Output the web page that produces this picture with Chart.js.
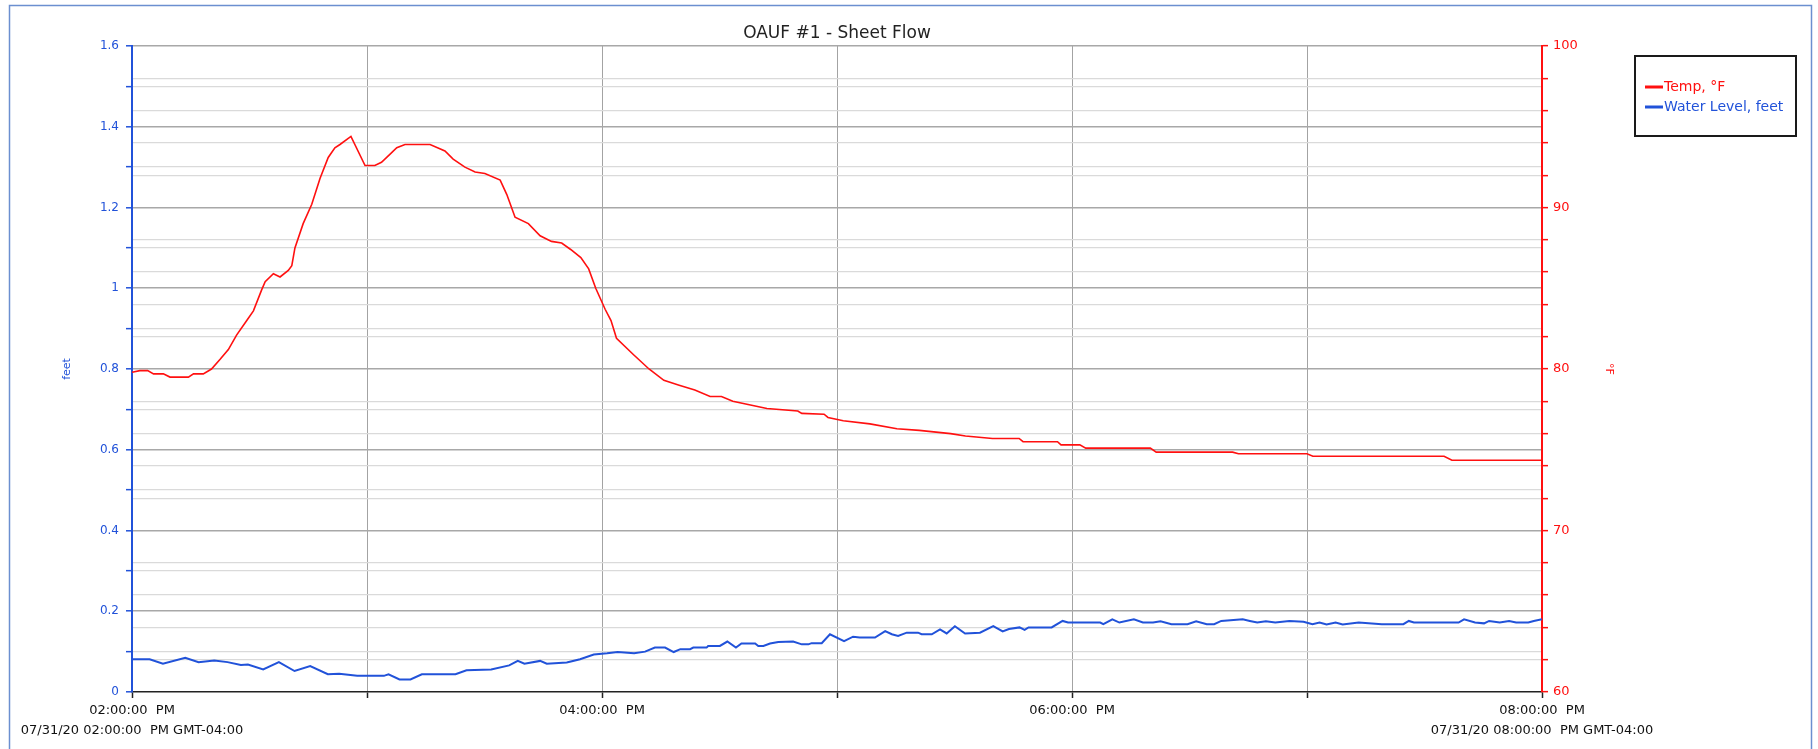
<!DOCTYPE html>
<html>
<head>
<meta charset="utf-8">
<title>OAUF #1 - Sheet Flow</title>
<script src="https://cdn.jsdelivr.net/npm/chart.js@4"></script>
<style>
    body { margin: 0; background: #fff; }
    #wrap { width: 1818px; height: 749px; position: relative; }
</style>
</head>
<body>
<div id="wrap"><canvas id="myChart"></canvas></div>
<script>
// time is in minutes after 02:00:00 PM (07/31/20)
let chartTitle = "OAUF #1 - Sheet Flow"

let tempMinutes = [0, 2, 4, 5.5, 8, 9.7, 14.4, 15.7, 18.2, 20.3, 22.5, 24.6, 26.7, 29.3, 31, 33.1, 34, 36.1, 37.8, 39.9,
    40.8, 41.6, 43.7, 45.9, 48, 50.1, 51.8, 53.1, 55.9, 59.5, 62, 63.7, 65.9, 67.6, 69.7, 76.1, 79.9, 82, 85, 87.6,
    90.1, 94, 95.7, 97.8, 101.2, 104.2, 107.1, 109.7, 112, 114.6, 116.6, 118.4, 120.8, 122.3, 123.7, 128, 132, 135.8, 139.7, 143.7,
    147.6, 150.5, 153.4, 157.3, 162.1, 170, 171, 176.7, 177.7, 181.6, 188.4, 195.3, 201, 209, 212.8, 219.7, 226.5, 227.5, 236.3, 237.2,
    242, 243.5, 260, 261.5, 281, 282.5, 300, 301.5, 335, 337, 360]
let tempValues = [79.8, 79.9, 79.9, 79.7, 79.7, 79.5, 79.5, 79.7, 79.7, 80.0, 80.6, 81.2, 82.1, 83.0, 83.6, 84.9, 85.4, 85.9, 85.7, 86.1,
    86.4, 87.5, 89.0, 90.2, 91.8, 93.1, 93.7, 93.9, 94.4, 92.6, 92.6, 92.8, 93.3, 93.7, 93.9, 93.9, 93.5, 93.0, 92.5, 92.2,
    92.1, 91.7, 90.8, 89.4, 89.0, 88.25, 87.9, 87.8, 87.4, 86.9, 86.2, 85.0, 83.7, 83.0, 81.9, 80.9, 80.0, 79.3, 79.0, 78.7,
    78.3, 78.3, 78.0, 77.8, 77.55, 77.4, 77.25, 77.2, 77.0, 76.8, 76.6, 76.3, 76.2, 76.0, 75.85, 75.7, 75.7, 75.5, 75.5, 75.3,
    75.3, 75.1, 75.1, 74.85, 74.85, 74.75, 74.75, 74.6, 74.6, 74.35, 74.35]

let levelMinutes = [0, 4.5, 7.9, 13.6, 17, 21, 24.4, 27.8, 29.6, 33.5, 37.5, 41.5, 45.5, 50, 52.9, 57.5, 64.3, 65.5, 68.3, 71.1,
    74, 82.6, 85.4, 91.7, 96.3, 98.5, 100.2, 104.2, 105.9, 111, 114.4, 117.9, 121.3, 124, 128.2, 131, 133.5, 136.1, 138.3, 140,
    142.5, 143.3, 146.7, 147.1, 150.1, 152, 154.2, 155.6, 159.1, 159.9, 161.2, 162.9, 165, 168.8, 171, 172.7, 173.5, 176.1, 178.2, 181.8,
    184.1, 185.8, 189.7, 192.3, 194, 195.6, 197.8, 200.7, 201.6, 204.2, 206.3, 208, 210.1, 212.7, 216.5, 219.9, 222.3, 223.9, 226.6, 227.9,
    228.9, 234.8, 237.6, 239, 247.2, 248, 250.3, 252.1, 255.8, 258.1, 260.7, 262.6, 265.4, 269.5, 271.7, 274.4, 276.3, 278.1, 283.6, 285.4,
    287.3, 289.5, 291.9, 295.5, 299.1, 301.4, 303.2, 305, 307.3, 309.1, 313.2, 319.1, 324.6, 326, 327.3, 338.7, 340.1, 342.9, 345.2, 346.5,
    349.2, 351.6, 353.4, 356.5, 357.9, 360]
let levelValues = [0.081, 0.081, 0.070, 0.085, 0.074, 0.078, 0.074, 0.067, 0.068, 0.056, 0.074, 0.052, 0.064, 0.044, 0.045, 0.040, 0.040, 0.044, 0.031, 0.031,
    0.044, 0.044, 0.054, 0.056, 0.066, 0.077, 0.070, 0.077, 0.070, 0.073, 0.081, 0.093, 0.096, 0.099, 0.096, 0.100, 0.110, 0.110, 0.099, 0.106,
    0.106, 0.110, 0.110, 0.114, 0.114, 0.125, 0.110, 0.120, 0.120, 0.114, 0.114, 0.120, 0.124, 0.125, 0.118, 0.118, 0.121, 0.121, 0.143, 0.126,
    0.137, 0.135, 0.135, 0.151, 0.143, 0.139, 0.147, 0.147, 0.143, 0.143, 0.155, 0.145, 0.163, 0.145, 0.147, 0.163, 0.150, 0.156, 0.160, 0.154,
    0.160, 0.160, 0.176, 0.172, 0.172, 0.168, 0.180, 0.172, 0.180, 0.172, 0.172, 0.175, 0.168, 0.168, 0.175, 0.168, 0.168, 0.176, 0.180, 0.176,
    0.172, 0.175, 0.172, 0.176, 0.174, 0.168, 0.172, 0.167, 0.172, 0.167, 0.172, 0.168, 0.168, 0.176, 0.172, 0.172, 0.180, 0.172, 0.170, 0.176,
    0.172, 0.176, 0.172, 0.172, 0.176, 0.180]

// x tick labels (every 2 hours), full date under the first and last one
let xTickMinutes = [0, 120, 240, 360]
let xTickLabels = ["02:00:00  PM", "04:00:00  PM", "06:00:00  PM", "08:00:00  PM"]
let xDateLabels = {0: "07/31/20 02:00:00  PM GMT-04:00", 360: "07/31/20 08:00:00  PM GMT-04:00"}

let blue = '#2152d9'
let red = '#ff1010'

Chart.defaults.font.family = '"DejaVu Sans", sans-serif'

// frame, title, axis titles and legend box
const extras = {
    id: 'extras',
    afterDraw(chart) {
        let c = chart.ctx
        c.save()
        c.strokeStyle = '#6b8fd0'
        c.lineWidth = 1.5
        c.strokeRect(9.5, 5.5, 1802, 780)

        c.fillStyle = '#222'
        c.font = '17px "DejaVu Sans"'
        c.textAlign = 'center'
        c.textBaseline = 'middle'
        c.fillText(chartTitle, 837, 34)

        // axis titles
        c.font = '11px "DejaVu Sans"'
        c.fillStyle = blue
        c.translate(67, 369)
        c.rotate(-Math.PI / 2)
        c.fillText("feet", 0, 0)
        c.setTransform(1, 0, 0, 1, 0, 0)
        c.fillStyle = red
        c.translate(1609, 369)
        c.rotate(Math.PI / 2)
        c.fillText("°F", 0, 0)
        c.setTransform(1, 0, 0, 1, 0, 0)

        // legend
        c.strokeStyle = '#1a1a1a'
        c.lineWidth = 2
        c.strokeRect(1635, 56, 161, 80)
        c.font = '14px "DejaVu Sans"'
        c.textAlign = 'left'
        chart.data.datasets.forEach((ds, i) => {
            let y = 87 + i * 20
            c.strokeStyle = ds.borderColor
            c.lineWidth = 3
            c.beginPath()
            c.moveTo(1645, y)
            c.lineTo(1663, y)
            c.stroke()
            c.fillStyle = ds.borderColor
            c.fillText(ds.label, 1664, y)
        })
        c.restore()
    }
}

let ctx = document.getElementById('myChart').getContext('2d')
let chart = new Chart(ctx, {
    type: 'line',
    data: {
        datasets: [{
            label: 'Temp, °F',
            data: tempMinutes.map((m, i) => ({x: m, y: tempValues[i]})),
            yAxisID: 'yR',
            borderColor: red,
            borderWidth: 1.6,
            pointRadius: 0,
            tension: 0
        }, {
            label: 'Water Level, feet',
            data: levelMinutes.map((m, i) => ({x: m, y: levelValues[i]})),
            yAxisID: 'yL',
            borderColor: blue,
            borderWidth: 2,
            pointRadius: 0,
            tension: 0
        }]
    },
    options: {
        responsive: true,
        maintainAspectRatio: false,
        animation: false,
        devicePixelRatio: 1,
        layout: {padding: {top: 46, left: 0, right: 0, bottom: 0}},
        plugins: {
            legend: {display: false},
            title: {display: false},
            tooltip: {enabled: false}
        },
        scales: {
            x: {
                type: 'linear',
                position: 'bottom',
                min: 0,
                max: 360,
                ticks: {
                    stepSize: 60,
                    autoSkip: false,
                    maxRotation: 0,
                    padding: 3,
                    color: '#111',
                    font: {size: 13, lineHeight: 1.5},
                    callback: function (value) {
                        let i = xTickMinutes.indexOf(value)
                        if (i < 0) return ''
                        if (xDateLabels[value]) return [xTickLabels[i], xDateLabels[value]]
                        return xTickLabels[i]
                    }
                },
                grid: {
                    color: (c) => (c.tick && (c.tick.value == 0 || c.tick.value == 360)) ? 'rgba(0,0,0,0)' : '#a3a3a3',
                    lineWidth: 1,
                    tickColor: '#222',
                    tickLength: 6,
                    tickWidth: 1.5
                },
                border: {color: '#222', width: 1.5},
                afterFit: (s) => { s.height = 57 }
            },
            yL: {
                type: 'linear',
                position: 'left',
                min: 0,
                max: 1.6,
                ticks: {
                    stepSize: 0.1,
                    padding: 7,
                    color: blue,
                    font: {size: 12},
                    callback: function (value) {
                        let n = Math.round(value * 10)
                        return n % 2 == 0 ? String(n / 10) : ''
                    }
                },
                grid: {
                    color: (c) => {
                        let n = Math.round(c.tick.value * 10)
                        if (n == 0) return 'rgba(0,0,0,0)'
                        return n % 2 == 0 ? '#a8a8a8' : '#dadada'
                    },
                    lineWidth: (c) => Math.round(c.tick.value * 10) % 2 == 0 ? 1.6 : 1.3,
                    tickColor: blue,
                    tickLength: 6,
                    tickWidth: 1.5
                },
                border: {color: blue, width: 2},
                afterFit: (s) => { s.width = 132 }
            },
            yR: {
                type: 'linear',
                position: 'right',
                min: 60,
                max: 100,
                ticks: {
                    stepSize: 1,
                    padding: 5,
                    color: red,
                    font: {size: 13},
                    callback: function (value) {
                        return value % 5 == 0 ? String(value) : ''
                    }
                },
                grid: {
                    color: (c) => c.tick.value % 5 == 0 ? 'rgba(0,0,0,0)' : '#dadada',
                    lineWidth: 1.3,
                    tickColor: red,
                    tickLength: 6,
                    tickWidth: 1.5
                },
                border: {color: red, width: 2},
                afterFit: (s) => { s.width = 276 }
            }
        }
    },
    plugins: [extras]
})
</script>
</body>
</html>
